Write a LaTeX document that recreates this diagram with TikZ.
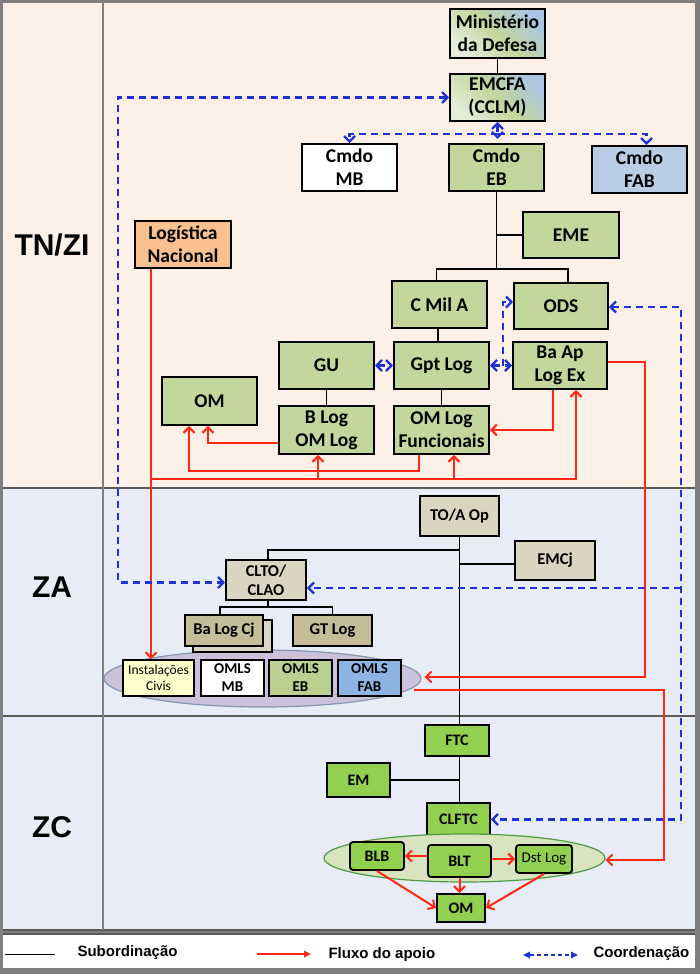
\documentclass[tikz,border=0pt]{standalone}
\usepackage{fontspec}
\setmainfont{Carlito}
\newfontfamily\lsans{Liberation Sans}
\usetikzlibrary{arrows.meta,calc,shapes.geometric}
\definecolor{peach}{HTML}{FDF0E6}
\definecolor{lblue}{HTML}{E7ECF6}
\definecolor{frameg}{HTML}{7F7F7F}
\definecolor{lineg}{HTML}{5A5A5A}
\definecolor{gEB}{HTML}{C3D69B}
\definecolor{bFAB}{HTML}{B9CDE5}
\definecolor{shTop}{HTML}{ABC6E2}
\definecolor{shBot}{HTML}{E4ECD8}
\definecolor{orLN}{HTML}{FAC090}
\definecolor{tanL}{HTML}{D9D5C0}
\definecolor{tanD}{HTML}{C4BD97}
\definecolor{yelI}{HTML}{FFFFCC}
\definecolor{gOMLS}{HTML}{BAD08E}
\definecolor{bOMLS}{HTML}{8EB4E3}
\definecolor{purE}{HTML}{CCC1DA}
\definecolor{purB}{HTML}{8497B0}
\definecolor{gZC}{HTML}{92D050}
\definecolor{gEll}{HTML}{D7E4BD}
\definecolor{gEllB}{HTML}{4F9A45}
\definecolor{redF}{RGB}{255,40,20}
\definecolor{blueC}{RGB}{30,50,215}
\begin{document}
\begin{tikzpicture}[x=1pt,y=-1pt,
  box/.style={draw=black, line width=1.9pt, inner sep=1pt, align=center, text=black,
    font=\bfseries\fontsize{19.5}{23}\selectfont},
  zabox/.style={box, font=\bfseries\fontsize{16.5}{19}\selectfont},
  omls/.style={box, font=\bfseries\fontsize{15}{18}\selectfont, minimum width=63pt, minimum height=36pt},
  zcbox/.style={box, fill=gZC, font=\bfseries\fontsize{16}{19}\selectfont},
  rbox/.style={zcbox, rounded corners=3pt},
  sub/.style={draw=black, line width=1.8pt},
  flow/.style={draw=redF, line width=2pt, -{Straight Barb[length=5.5pt,width=11pt]}},
  coord/.style={draw=blueC, line width=2.2pt, dash pattern=on 7pt off 5pt, -{Straight Barb[length=5.5pt,width=11pt]}},
  coordd/.style={coord, {Straight Barb[length=5.5pt,width=11pt]}-{Straight Barb[length=5.5pt,width=11pt]}},
  zone/.style={font=\lsans\bfseries\fontsize{30}{30}\selectfont, text=black},
  leg/.style={anchor=west, font=\lsans\bfseries\fontsize{15}{15}\selectfont, text=black}
]
\useasboundingbox (0,0) rectangle (700,974);
% frame and bands
\fill[frameg] (0,0) rectangle (700,974);
\fill[peach] (3,3) rectangle (695,488);
\fill[lblue] (3,488) rectangle (695,930);
\fill[white] (3,934) rectangle (695,968);
\draw[lineg, line width=1.8pt] (3,488) -- (695,488);
\draw[lineg, line width=1.8pt] (3,716) -- (695,716);
\draw[lineg, line width=1.4pt] (3,930) -- (695,930);
\draw[lineg, line width=1.4pt] (3,934) -- (695,934);
\draw[frameg, line width=1.8pt] (103,3) -- (103,930);

% zone labels
\node[zone] (zTN) at (52,245) {TN/ZI};
\node[zone] (zZA) at (52,587) {ZA};
\node[zone] (zZC) at (52,827) {ZC};

% ---------- TN/ZI ----------
\node[box, top color=shTop, bottom color=shBot, middle color=gEB, shading angle=-45,
  minimum width=95pt, minimum height=49pt] (min) at (497.5,33.5) {Ministério\\da Defesa};
\node[box, top color=shTop, bottom color=shBot, middle color=gEB, shading angle=-45,
  minimum width=95pt, minimum height=47pt] (emcfa) at (497.5,97.5) {EMCFA\\(CCLM)};
\node[box, fill=white, minimum width=95pt, minimum height=47pt] (mb) at (349.5,167.5) {Cmdo\\MB};
\node[box, fill=gEB, minimum width=95pt, minimum height=47pt] (eb) at (496.5,167.5) {Cmdo\\EB};
\node[box, fill=bFAB, minimum width=95pt, minimum height=47pt] (fab) at (639.5,169.5) {Cmdo\\FAB};
\node[box, fill=gEB, minimum width=96pt, minimum height=46pt] (eme) at (571,235) {EME};
\node[box, fill=orLN, minimum width=96pt, minimum height=47pt] (logn) at (183,244.5) {Logística\\Nacional};
\node[box, fill=gEB, minimum width=95pt, minimum height=47pt] (cmila) at (439.5,304.5) {C Mil A};
\node[box, fill=gEB, minimum width=94pt, minimum height=46pt] (ods) at (561,306) {ODS};
\node[box, fill=gEB, minimum width=95pt, minimum height=47pt] (gu) at (326.5,365.5) {GU};
\node[box, fill=gEB, minimum width=95pt, minimum height=47pt] (gpt) at (441.5,365.5) {Gpt Log};
\node[box, fill=gEB, minimum width=94pt, minimum height=47pt] (baap) at (560,365.5) {Ba Ap\\Log Ex};
\node[box, fill=gEB, minimum width=95pt, minimum height=48pt] (omtop) at (209.5,401) {OM};
\node[box, fill=gEB, minimum width=95pt, minimum height=48pt] (blog) at (326.5,430) {B Log\\OM Log};
\node[box, fill=gEB, minimum width=95pt, minimum height=48pt] (omlog) at (441.5,430) {OM Log\\Funcionais};

% ---------- ZA ----------
\node[zabox, fill=tanL, minimum width=79pt, minimum height=40pt] (toaop) at (459.5,516) {TO/A Op};
\node[zabox, fill=tanL, minimum width=80pt, minimum height=39pt] (emcj) at (555,560.5) {EMCj};
\node[zabox, fill=tanL, minimum width=80pt, minimum height=40pt] (clto) at (266,580) {CLTO/\\CLAO};
\node[ellipse, draw=purB, line width=1.2pt, fill=purE, minimum width=317pt, minimum height=57pt, inner sep=0pt] (za) at (262.5,678.5) {};
\node[zabox, fill=tanL, minimum width=79pt, minimum height=32pt] (balogs) at (232.5,636) {};
\node[zabox, fill=tanD, minimum width=78pt, minimum height=31pt] (balog) at (224,630.5) {Ba Log Cj};
\node[zabox, fill=tanD, minimum width=79pt, minimum height=31pt] (gtlog) at (332.5,630.5) {GT Log};
\node[box, fill=yelI, font=\fontsize{13.5}{16.5}\selectfont, minimum width=71pt, minimum height=36pt] (inst) at (158.5,678) {Instalações\\Civis};
\node[omls, fill=white] (omlsmb) at (232.5,678) {OMLS\\MB};
\node[omls, fill=gOMLS] (omlseb) at (300.5,678) {OMLS\\EB};
\node[omls, fill=bOMLS] (omlsfab) at (369.5,678) {OMLS\\FAB};

% ---------- ZC ----------
\node[zcbox, minimum width=64pt, minimum height=31pt] (ftc) at (457,740.5) {FTC};
\node[zcbox, minimum width=63pt, minimum height=34pt] (em) at (358.5,780) {EM};
\node[zcbox, minimum width=63pt, minimum height=33pt] (clftc) at (458.5,819.5) {CLFTC};
\node[ellipse, draw=gEllB, line width=1.2pt, fill=gEll, minimum width=281pt, minimum height=48pt, inner sep=0pt] (zc) at (464.5,858) {};
\node[rbox, minimum width=54pt, minimum height=28pt] (blb) at (377,856) {BLB};
\node[rbox, minimum width=63pt, minimum height=32pt] (blt) at (459.5,861) {BLT};
\node[rbox, font=\fontsize{15}{18}\selectfont, minimum width=56pt, minimum height=28pt] (dst) at (544,859) {Dst Log};
\node[zcbox, minimum width=48pt, minimum height=28pt] (om) at (461,908) {OM};

% ---------- subordination ----------
\draw[sub] (min.south) -- (emcfa.north);
\draw[sub] (eb.south) -- ++(0,77) coordinate (j1);
\draw[sub] (eb.south |- eme.west) -- (eme.west);
\draw[sub] ($(cmila.north)+(-3,0)$) |- (j1) -| ($(ods.north)+(7,0)$);
\draw[sub] ($(cmila.south)+(-1.5,0)$) -- ($(gpt.north)+(-3.5,0)$);
\draw[sub] (gu.south) -- (blog.north);
\draw[sub] (gpt.south) -- (omlog.north);
\draw[sub] (toaop.south) -- (toaop.south |- ftc.north);
\draw[sub] ($(toaop.south)+(0,13)$) -| ($(clto.north)+(2,0)$);
\coordinate (jemcj) at ($(toaop.south)+(0,27)$);
\draw[sub] (jemcj) -- (jemcj -| emcj.west);
\draw[sub] ($(clto.south)+(2,0)$) -- ++(0,6) coordinate (j2);
\draw[sub] ($(balog.north)+(-4,0)$) |- (j2) -| (gtlog.north);
\draw[sub] (ftc.south -| toaop.south) -- (clftc.north -| toaop.south);
\draw[sub] (em.east) -- (em.east -| toaop.south);

% ---------- flow of support ----------
\coordinate (ln) at ($(logn.south west)+(17,0)$);
\coordinate (bus) at ($(ln)+(0,210)$);
\coordinate (fblog) at ($(blog.south)+(-8.5,0)$);
\coordinate (fomlog) at ($(omlog.south)+(12.5,0)$);
\draw[flow] (ln) -- (ln |- inst.north);
\draw[flow] (bus) -| ($(baap.south)+(16,0)$);
\draw[flow] (bus -| fblog) -- (fblog);
\draw[flow] (bus -| fomlog) -- (fomlog);
\draw[flow] ($(omlog.south)+(-22.5,0)$) -- ++(0,16) -| ($(omtop.south)+(-20.5,0)$);
\draw[flow] ($(blog.west)+(0,13)$) -| ($(omtop.south)+(-1.5,0)$);
\draw[flow] ($(baap.south)+(-7,0)$) |- (omlog.east);
\draw[flow] ($(baap.east)+(0,-3.5)$) -- ++(37,0) |- ($(za.east)+(3,-1.5)$);
\draw[flow] ($(za.east)+(-8,11.5)$) -- ++(250,0) |- ($(zc.east)+(0,2)$);
\draw[flow] (blb.east -| blt.west) -- (blb.east);
\draw[flow] (dst.west -| blt.east) -- (dst.west);
\draw[flow] (blt.south) -- (blt.south |- om.north);
\draw[flow] (blb.south) -- (om.west);
\draw[flow] (dst.south) -- (om.east);

% ---------- coordination ----------
\draw[coordd] (emcfa.west) -- ++(-331,0) |- ($(clto.west)+(0,2.5)$);
\draw[coordd] (emcfa.south) -- ++(0,17);
\draw[coord] ($(emcfa.south)+(0,12)$) -| (mb.north);
\draw[coord] ($(emcfa.south)+(0,12)$) -| ($(fab.north)+(7,0)$);
\draw[coordd] (gu.east) -- (gpt.west);
\draw[coordd] (gpt.east) -- (baap.west);
\draw[coord] ($(gpt.east)+(13,0)$) |- ($(ods.west)+(0,-4)$);
\draw[coordd] ($(ods.east)+(0,1)$) -- ++(72,0) |- (clftc.east);
\draw[coord] ($(ods.east)+(72,282)$) -- ($(clto.east)+(0,8)$);

% ---------- legend ----------
\coordinate (la1) at (5,954);
\coordinate (la2) at (55,954);
\draw[black, line width=1pt] (la1) -- (la2);
\node[leg] (lsub) at (74,953) {Subordinação};
\coordinate (lb1) at (257,954);
\coordinate (lb2) at (311,954);
\draw[redF, line width=2.2pt, -{Triangle[length=7pt,width=6.5pt]}] (lb1) -- (lb2);
\node[leg] (lflu) at (325,955) {Fluxo do apoio};
\coordinate (lc1) at (523,955);
\coordinate (lc2) at (578,955);
\draw[blueC, line width=1.6pt, dash pattern=on 4pt off 3pt, {Triangle[length=7pt,width=6.5pt]}-{Triangle[length=7pt,width=6.5pt]}] (lc1) -- (lc2);
\node[leg] (lcoo) at (590,954) {Coordenação};
\end{tikzpicture}
\end{document}
